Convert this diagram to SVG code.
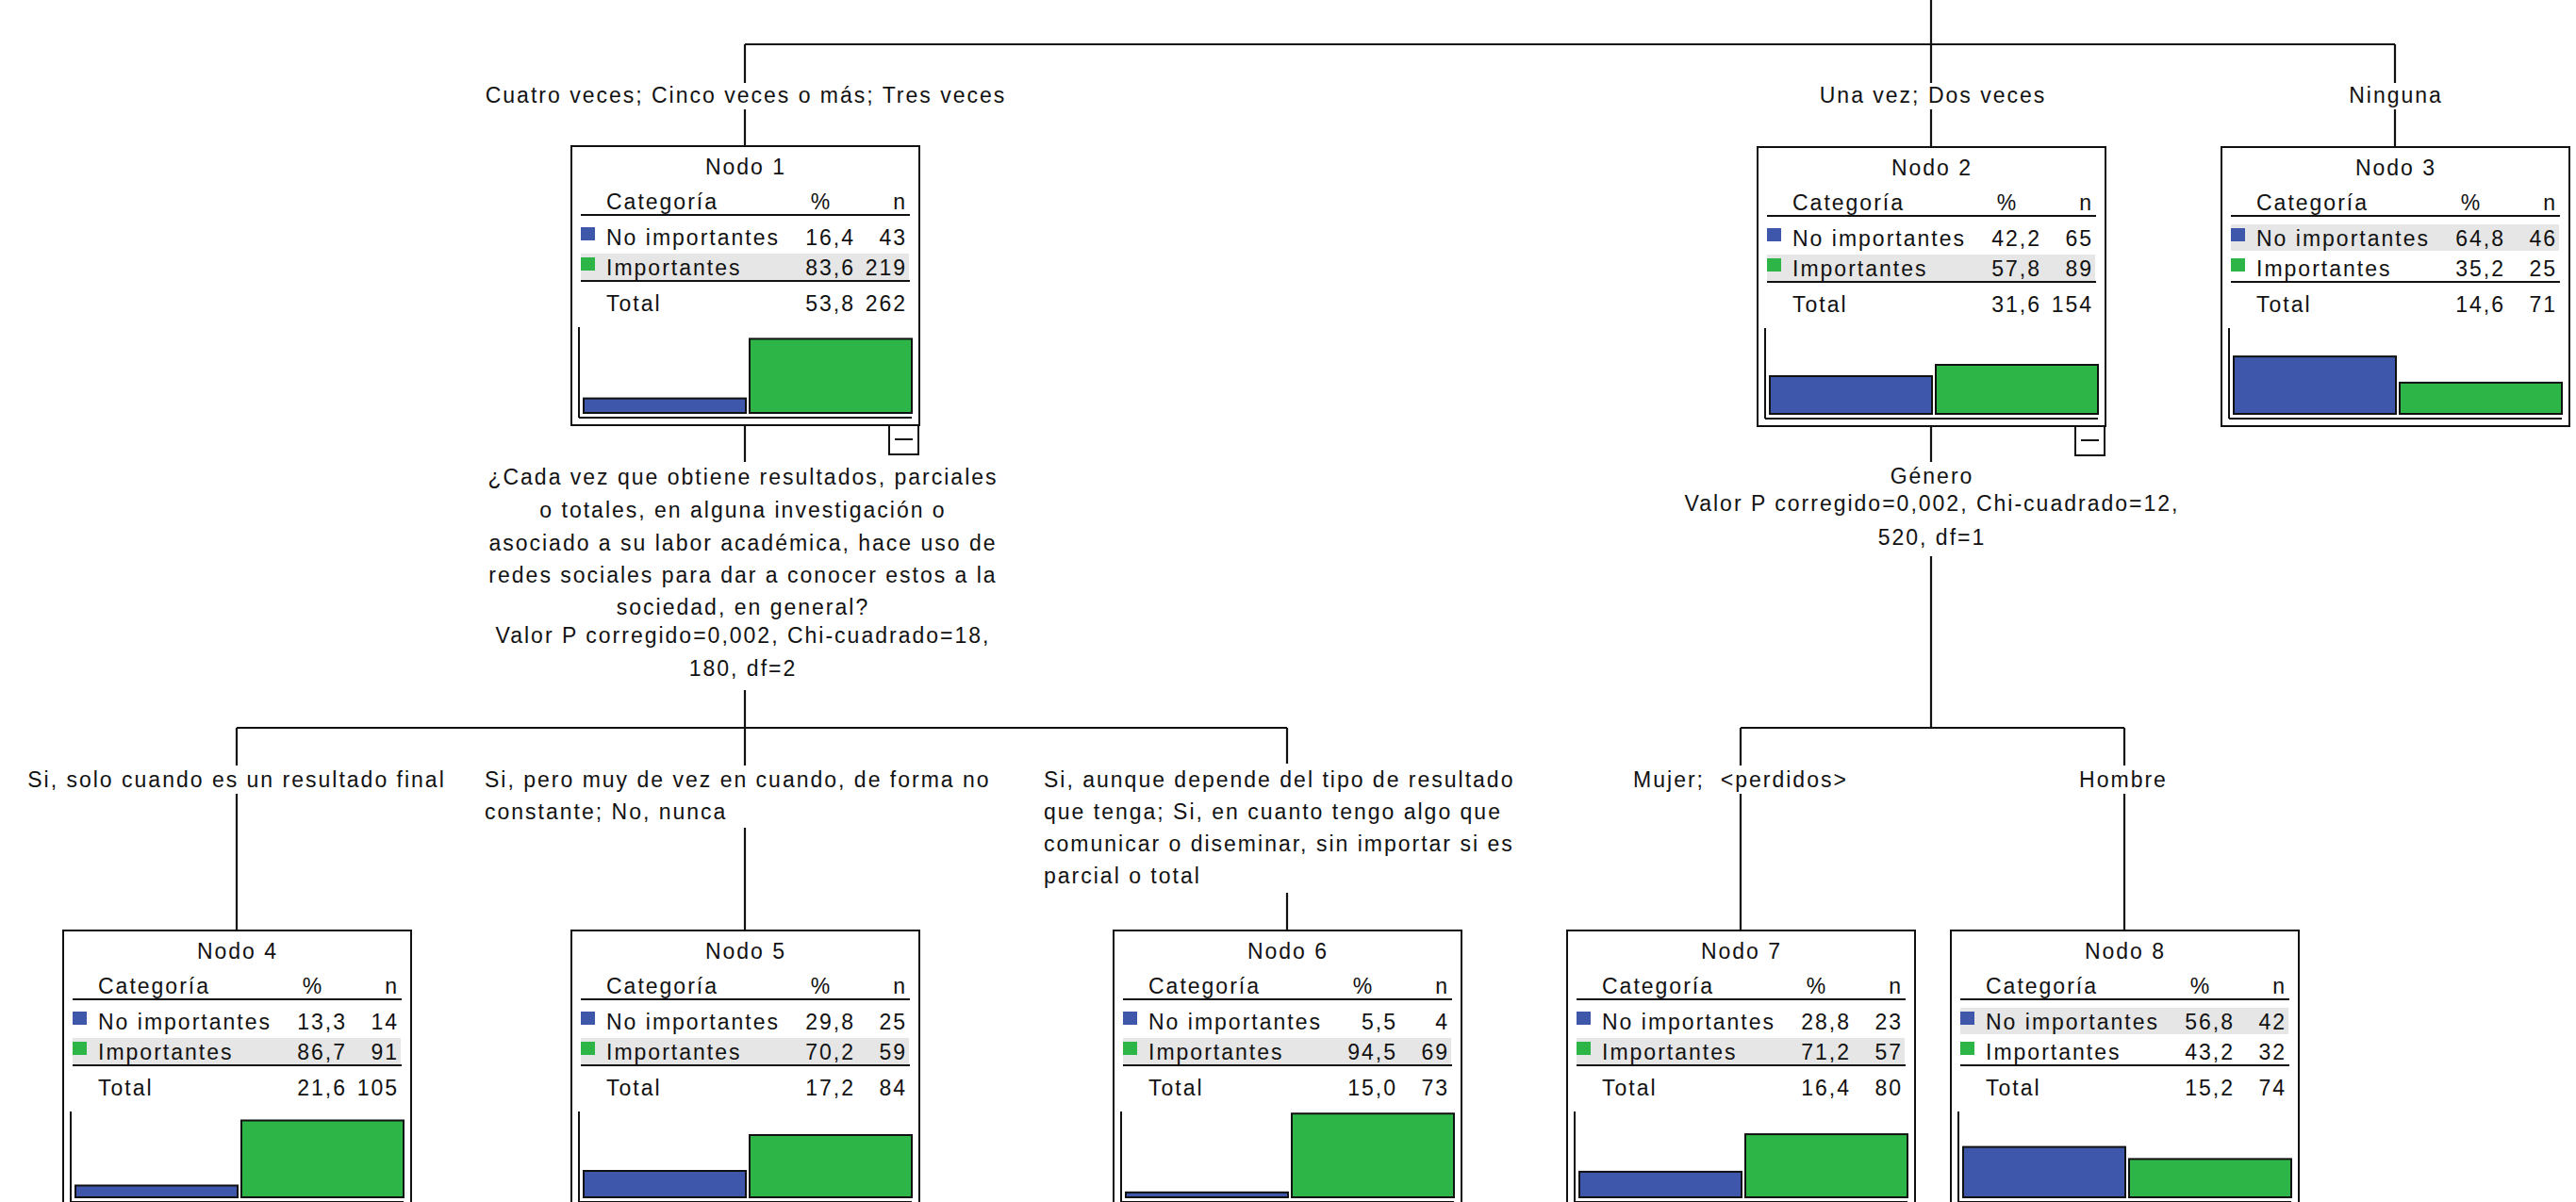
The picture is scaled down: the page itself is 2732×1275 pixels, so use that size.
<svg xmlns="http://www.w3.org/2000/svg" width="2732" height="1275" viewBox="0 0 2732 1275">
<style>
text{font-family:"Liberation Sans",Arial,sans-serif;font-size:23px;letter-spacing:2px;fill:#111}
.m{text-anchor:middle}
.e{text-anchor:end}
.box{fill:#fff;stroke:#111;stroke-width:2}
.ln{stroke:#111;stroke-width:2;fill:none}
.con{stroke:#111;stroke-width:2.2;fill:none}
.hl{fill:#e6e6e6}
.b{fill:#3e57ab;stroke:#111;stroke-width:2}
.g{fill:#2db548;stroke:#111;stroke-width:2}
.sb{fill:#3e57ab}
.sg{fill:#2db548}
.bg{fill:#fff}
</style>
<defs>
<g id="frame">
<rect class="box" x="0" y="0" width="369" height="296"/>
<text x="37" y="67">Categoría</text>
<text class="m" x="265" y="67">%</text>
<text class="e" x="356" y="67">n</text>
<line class="ln" x1="10" y1="73" x2="359" y2="73"/>
<line class="ln" x1="10" y1="143" x2="359" y2="143"/>
<text x="37" y="175">Total</text>
<line class="ln" x1="8" y1="192" x2="8" y2="288"/>
<line class="ln" x1="8" y1="288" x2="361" y2="288"/>
</g>
<g id="rows">
<rect class="sb" x="10" y="86" width="15" height="14"/>
<rect class="sg" x="10" y="118" width="15" height="14"/>
<text x="37" y="105">No importantes</text>
<text x="37" y="137">Importantes</text>
</g>
<g id="minus">
<rect class="box" x="337" y="296" width="31" height="31"/>
<line class="ln" x1="343" y1="311" x2="362" y2="311"/>
</g>
</defs>

<g id="connectors">
<path class="con" d="M2048 0V47M790 47H2540M790 47V155M2048 47V156M2540 47V156"/>
<path class="con" d="M790 451V772M251 772H1365M251 772V987M790 772V987M1365 772V987"/>
<path class="con" d="M2048 451V772M1846 772H2253M1846 772V987M2253 772V987"/>
</g>

<g id="labels">
<rect class="bg" x="510" y="88" width="560" height="28"/>
<text class="m" x="791" y="109">Cuatro veces; Cinco veces o más; Tres veces</text>
<rect class="bg" x="1925" y="88" width="248" height="28"/>
<text class="m" x="2050" y="109">Una vez; Dos veces</text>
<rect class="bg" x="2485" y="88" width="110" height="28"/>
<text class="m" x="2541" y="109">Ninguna</text>

<rect class="bg" x="508" y="490" width="556" height="242"/>
<text class="m" x="788" y="514">¿Cada vez que obtiene resultados, parciales</text>
<text class="m" x="788" y="549">o totales, en alguna investigación o</text>
<text class="m" x="788" y="584">asociado a su labor académica, hace uso de</text>
<text class="m" x="788" y="618">redes sociales para dar a conocer estos a la</text>
<text class="m" x="788" y="652">sociedad, en general?</text>
<text class="m" x="788" y="682">Valor P corregido=0,002, Chi-cuadrado=18,</text>
<text class="m" x="788" y="717">180, df=2</text>

<rect class="bg" x="1775" y="490" width="548" height="100"/>
<text class="m" x="2049" y="513">Género</text>
<text class="m" x="2049" y="542">Valor P corregido=0,002, Chi-cuadrado=12,</text>
<text class="m" x="2049" y="578">520, df=1</text>

<rect class="bg" x="24" y="812" width="454" height="30"/>
<text class="m" x="251" y="835">Si, solo cuando es un resultado final</text>
<rect class="bg" x="508" y="812" width="556" height="66"/>
<text x="514" y="835">Si, pero muy de vez en cuando, de forma no</text>
<text x="514" y="869">constante; No, nunca</text>
<rect class="bg" x="1100" y="810" width="520" height="137"/>
<text x="1107" y="835">Si, aunque depende del tipo de resultado</text>
<text x="1107" y="869">que tenga; Si, en cuanto tengo algo que</text>
<text x="1107" y="903">comunicar o diseminar, sin importar si es</text>
<text x="1107" y="937">parcial o total</text>
<rect class="bg" x="1727" y="812" width="238" height="30"/>
<text class="m" x="1846" y="835">Mujer;&#160; &lt;perdidos&gt;</text>
<rect class="bg" x="2198" y="812" width="106" height="30"/>
<text class="m" x="2252" y="835">Hombre</text>
</g>

<g id="node1" transform="translate(606,155)">
<use href="#frame"/>
<rect class="hl" x="10" y="114" width="348" height="28"/>
<use href="#rows"/>
<text class="m" x="185" y="30">Nodo 1</text>
<text class="e" x="301" y="105">16,4</text><text class="e" x="356" y="105">43</text>
<text class="e" x="301" y="137">83,6</text><text class="e" x="356" y="137">219</text>
<text class="e" x="301" y="175">53,8</text><text class="e" x="356" y="175">262</text>
<rect class="b" x="13" y="267.6" width="172" height="15.4"/>
<rect class="g" x="189" y="204.4" width="172" height="78.6"/>
<use href="#minus"/>
</g>

<g id="node2" transform="translate(1864,156)">
<use href="#frame"/>
<rect class="hl" x="10" y="114" width="348" height="28"/>
<use href="#rows"/>
<text class="m" x="185" y="30">Nodo 2</text>
<text class="e" x="301" y="105">42,2</text><text class="e" x="356" y="105">65</text>
<text class="e" x="301" y="137">57,8</text><text class="e" x="356" y="137">89</text>
<text class="e" x="301" y="175">31,6</text><text class="e" x="356" y="175">154</text>
<rect class="b" x="13" y="243" width="172" height="40"/>
<rect class="g" x="189" y="231" width="172" height="52"/>
<use href="#minus"/>
</g>

<g id="node3" transform="translate(2356,156)">
<use href="#frame"/>
<rect class="hl" x="10" y="82" width="348" height="28"/>
<use href="#rows"/>
<text class="m" x="185" y="30">Nodo 3</text>
<text class="e" x="301" y="105">64,8</text><text class="e" x="356" y="105">46</text>
<text class="e" x="301" y="137">35,2</text><text class="e" x="356" y="137">25</text>
<text class="e" x="301" y="175">14,6</text><text class="e" x="356" y="175">71</text>
<rect class="b" x="13" y="222.1" width="172" height="60.9"/>
<rect class="g" x="189" y="249.9" width="172" height="33.1"/>
</g>

<g id="node4" transform="translate(67,987)">
<use href="#frame"/>
<rect class="hl" x="10" y="114" width="348" height="28"/>
<use href="#rows"/>
<text class="m" x="185" y="30">Nodo 4</text>
<text class="e" x="301" y="105">13,3</text><text class="e" x="356" y="105">14</text>
<text class="e" x="301" y="137">86,7</text><text class="e" x="356" y="137">91</text>
<text class="e" x="301" y="175">21,6</text><text class="e" x="356" y="175">105</text>
<rect class="b" x="13" y="270.5" width="172" height="12.5"/>
<rect class="g" x="189" y="201.5" width="172" height="81.5"/>
</g>

<g id="node5" transform="translate(606,987)">
<use href="#frame"/>
<rect class="hl" x="10" y="114" width="348" height="28"/>
<use href="#rows"/>
<text class="m" x="185" y="30">Nodo 5</text>
<text class="e" x="301" y="105">29,8</text><text class="e" x="356" y="105">25</text>
<text class="e" x="301" y="137">70,2</text><text class="e" x="356" y="137">59</text>
<text class="e" x="301" y="175">17,2</text><text class="e" x="356" y="175">84</text>
<rect class="b" x="13" y="255" width="172" height="28"/>
<rect class="g" x="189" y="217" width="172" height="66"/>
</g>

<g id="node6" transform="translate(1181,987)">
<use href="#frame"/>
<rect class="hl" x="10" y="114" width="348" height="28"/>
<use href="#rows"/>
<text class="m" x="185" y="30">Nodo 6</text>
<text class="e" x="301" y="105">5,5</text><text class="e" x="356" y="105">4</text>
<text class="e" x="301" y="137">94,5</text><text class="e" x="356" y="137">69</text>
<text class="e" x="301" y="175">15,0</text><text class="e" x="356" y="175">73</text>
<rect class="b" x="13" y="277.8" width="172" height="5.2"/>
<rect class="g" x="189" y="194.2" width="172" height="88.8"/>
</g>

<g id="node7" transform="translate(1662,987)">
<use href="#frame"/>
<rect class="hl" x="10" y="114" width="348" height="28"/>
<use href="#rows"/>
<text class="m" x="185" y="30">Nodo 7</text>
<text class="e" x="301" y="105">28,8</text><text class="e" x="356" y="105">23</text>
<text class="e" x="301" y="137">71,2</text><text class="e" x="356" y="137">57</text>
<text class="e" x="301" y="175">16,4</text><text class="e" x="356" y="175">80</text>
<rect class="b" x="13" y="255.9" width="172" height="27.1"/>
<rect class="g" x="189" y="216.1" width="172" height="66.9"/>
</g>

<g id="node8" transform="translate(2069,987)">
<use href="#frame"/>
<rect class="hl" x="10" y="82" width="348" height="28"/>
<use href="#rows"/>
<text class="m" x="185" y="30">Nodo 8</text>
<text class="e" x="301" y="105">56,8</text><text class="e" x="356" y="105">42</text>
<text class="e" x="301" y="137">43,2</text><text class="e" x="356" y="137">32</text>
<text class="e" x="301" y="175">15,2</text><text class="e" x="356" y="175">74</text>
<rect class="b" x="13" y="229.6" width="172" height="53.4"/>
<rect class="g" x="189" y="242.4" width="172" height="40.6"/>
</g>
</svg>
